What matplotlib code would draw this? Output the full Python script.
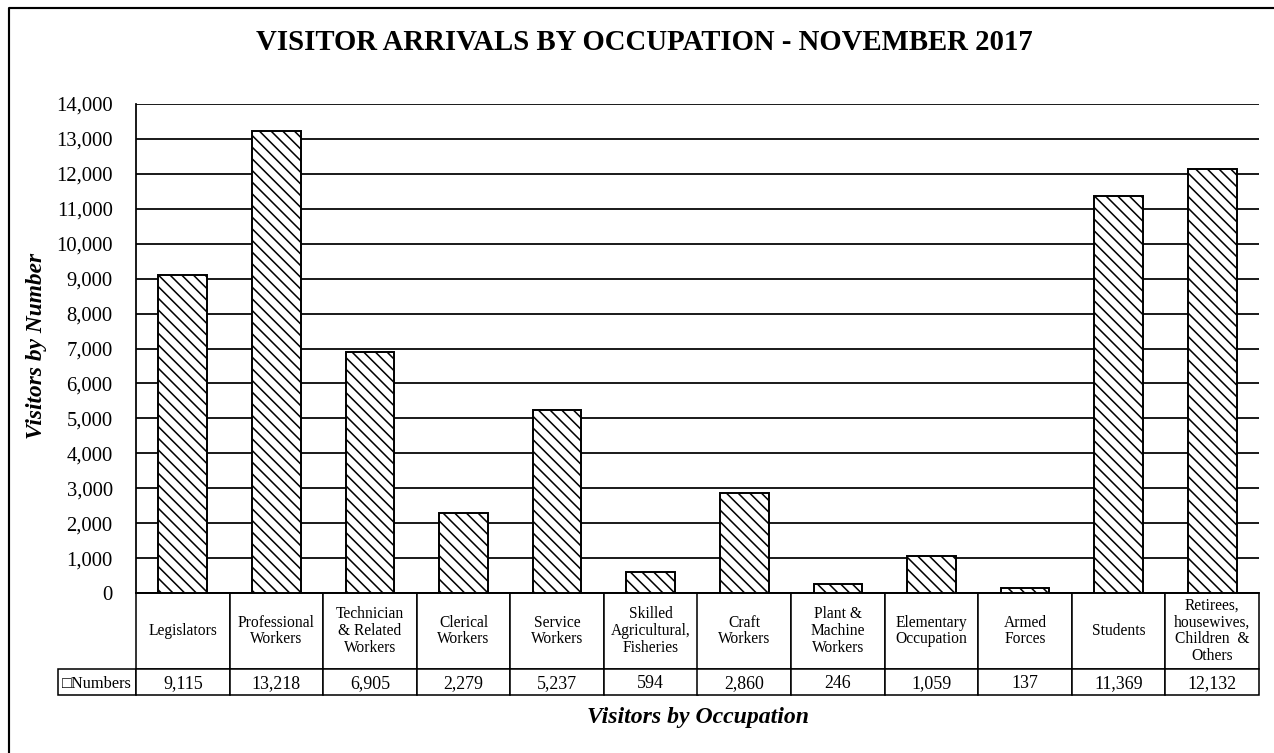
import matplotlib
matplotlib.use("Agg")
import matplotlib.pyplot as plt
from matplotlib.lines import Line2D
from matplotlib.transforms import Affine2D
from matplotlib.ticker import FuncFormatter, MultipleLocator

categories = ["Legislators", "Professional\nWorkers", "Technician\n& Related\nWorkers",
              "Clerical\nWorkers", "Service\nWorkers", "Skilled\nAgricultural,\nFisheries",
              "Craft\nWorkers", "Plant &\nMachine\nWorkers", "Elementary\nOccupation",
              "Armed\nForces", "Students", "Retirees,\nhousewives,\nChildren  &\nOthers"]
numbers = [9115, 13218, 6905, 2279, 5237, 594, 2860, 246, 1059, 137, 11369, 12132]
series_label = "Numbers"
title = "VISITOR ARRIVALS BY OCCUPATION - NOVEMBER 2017"
y_label = "Visitors by Number"
x_label = "Visitors by Occupation"

DPI = 140
W, H = 1274, 753
serif = ["Liberation Serif", "DejaVu Serif"]
plt.rcParams["font.family"] = serif
plt.rcParams["hatch.linewidth"] = 0.8
plt.rcParams["hatch.color"] = "black"

fig = plt.figure(figsize=(W / DPI, H / DPI), dpi=DPI, facecolor="white")
ax = fig.add_axes([136 / W, 1 - 593 / H, (1259 - 136) / W, (593 - 104) / H])

x = list(range(len(categories)))
ax.bar(x, numbers, width=0.52, color="white", edgecolor="black", linewidth=1.0,
       hatch="\\\\\\\\", zorder=3)
ax.set_xlim(-0.5, len(categories) - 0.5)
ax.set_ylim(0, 14000)
ax.yaxis.set_major_locator(MultipleLocator(1000))
ax.yaxis.set_major_formatter(FuncFormatter(lambda v, p: f"{int(v):,}"))
ax.grid(axis="y", color="black", linewidth=0.9, zorder=0)
ax.set_axisbelow(True)
ax.set_xticks([])
ax.tick_params(axis="y", length=0, pad=12, labelsize=10.6)
for s in ["top", "right"]:
    ax.spines[s].set_visible(False)
ax.spines["left"].set_linewidth(0.9)
ax.spines["bottom"].set_linewidth(0.9)

hdr_h = 76 / 489
row_h = 26 / 489
lab_w = 80 / 1123
col_w = 1 / len(categories)
tbl = ax.table(cellText=[[f"{v:,}" for v in numbers]],
               rowLabels=["\u25a1" + series_label],
               colLabels=categories,
               cellLoc="center", rowLoc="left", colLoc="center",
               bbox=[0, -(hdr_h + row_h), 1, hdr_h + row_h])
tbl.auto_set_font_size(False)
for (r, c), cell in tbl.get_celld().items():
    cell.set_linewidth(0.8)
    cell.set_edgecolor("black")
    cell.set_facecolor("white")
    if c == -1:
        cell.set_width(lab_w)
    else:
        cell.set_width(col_w)
    t = cell.get_text()
    if r == 0:
        cell.set_height(hdr_h)
        t.set_fontsize(8.0)
        t.set_linespacing(1.05)
    else:
        cell.set_height(row_h)
        t.set_fontsize(9.2)
        t.set_verticalalignment("baseline")
        t.set_transform(Affine2D().translate(0, -6))
    if c == -1:
        t.set_fontfamily(["Liberation Serif", "DejaVu Sans"])
        t.set_fontsize(8.4)
        cell.PAD = 0.06

fig.text(644 / W, 1 - 50 / H, title, ha="center", va="baseline",
         fontsize=14.8, fontweight="bold")
fig.text(37 / W, 1 - 346 / H, y_label, ha="center", va="center", rotation=90,
         fontsize=12, fontweight="bold", fontstyle="italic")
fig.text(698 / W, 1 - 723 / H, x_label, ha="center", va="baseline",
         fontsize=12.2, fontweight="bold", fontstyle="italic")

fx = 9 / W
fy = 1 - 8 / H
fig.add_artist(Line2D([fx, fx, 1.01], [-0.01, fy, fy], transform=fig.transFigure,
                      color="black", linewidth=1.1))

fig.savefig("out.png", dpi=DPI, facecolor="white")
